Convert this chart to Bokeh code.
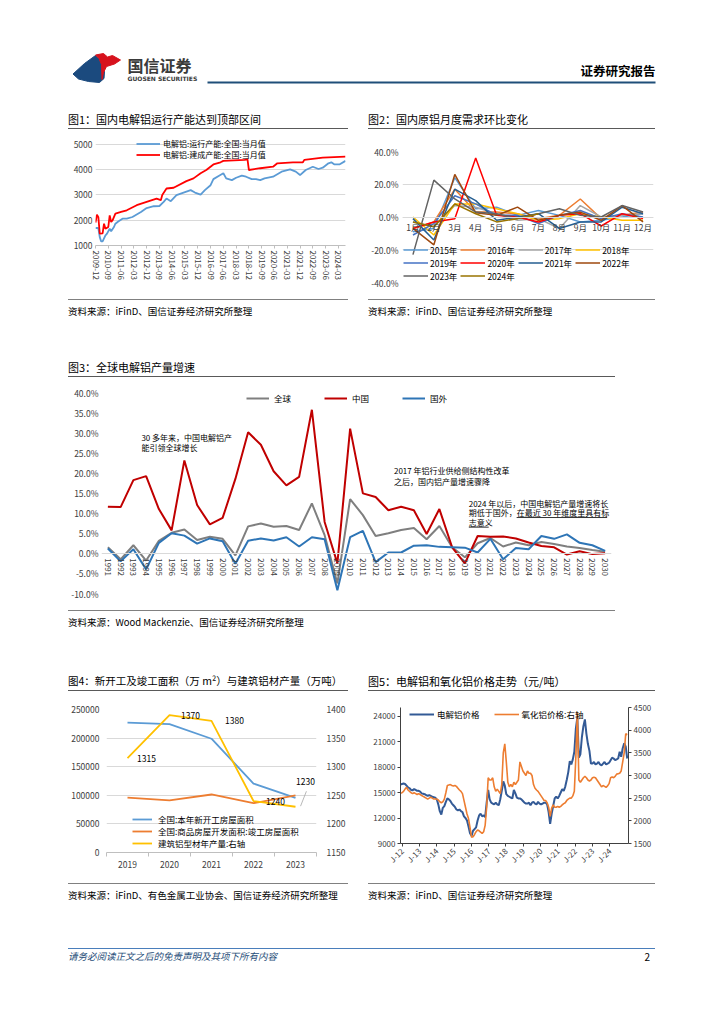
import math
from bokeh.plotting import figure
from bokeh.models import (Range1d, LinearAxis, FixedTicker, PrintfTickFormatter,
                          BasicTickFormatter, Legend, LegendItem, Label, LabelSet,
                          ColumnDataSource, Div, Spacer)
from bokeh.layouts import column, row
from bokeh.embed import file_html
from bokeh.resources import INLINE
from bokeh.core.properties import value

FONT = "Noto Sans CJK SC"
TICK_COLOR = "#404040"

# ---------------- Chart 1: capacity (万吨) ----------------
c1_tick_labels = ["2009-12", "2010-09", "2011-06", "2012-03", "2012-12", "2013-09",
                  "2014-06", "2015-03", "2015-12", "2016-09", "2017-06", "2018-03",
                  "2018-12", "2019-09", "2020-06", "2021-03", "2021-12", "2022-09",
                  "2023-06", "2024-03"]
c1_run_dates = ["2009-12", "2010-02", "2010-03", "2010-04", "2010-05", "2010-07", "2010-08",
                "2010-10", "2010-11", "2011-01", "2011-02", "2011-04", "2011-07", "2011-10",
                "2012-02", "2012-08", "2012-12", "2013-05", "2013-09", "2013-12", "2014-02",
                "2014-05", "2014-09", "2015-02", "2015-07", "2015-10", "2016-02", "2016-05",
                "2016-09", "2016-11", "2017-03", "2017-06", "2017-08", "2017-12", "2018-03",
                "2018-07", "2018-10", "2019-02", "2019-05", "2019-08", "2019-11", "2020-05",
                "2020-11", "2021-05", "2021-09", "2021-12", "2022-04", "2022-09", "2023-01",
                "2023-04", "2023-08", "2023-10", "2023-12", "2024-04", "2024-08"]
c1_run_vals = [1690, 1690, 1330, 1160, 1160, 1400, 1460, 1660, 1560, 1730, 1860, 1950,
               2060, 2060, 2125, 2325, 2480, 2550, 2560, 2720, 2855, 2750, 2990, 3090,
               3185, 3090, 3010, 3185, 3380, 3620, 3755, 3850, 3650, 3580, 3675, 3755,
               3715, 3620, 3620, 3580, 3650, 3715, 3915, 4005, 3915, 3780, 3980, 4110,
               4020, 4070, 4245, 4285, 4205, 4205, 4340]
c1_built_dates = ["2009-12", "2010-01", "2010-02", "2010-03", "2010-05", "2010-06", "2010-07",
                  "2010-09", "2010-10", "2010-11", "2010-12", "2011-02", "2011-06", "2011-10",
                  "2012-05", "2012-12", "2013-07", "2013-10", "2013-11", "2014-02", "2014-07",
                  "2015-04", "2015-09", "2016-02", "2016-06", "2016-11", "2017-04", "2017-06",
                  "2018-09", "2018-11", "2018-12", "2019-08", "2020-05", "2020-08", "2021-07",
                  "2022-02", "2022-03", "2023-04", "2024-08"]
c1_built_vals = [1900, 2220, 2120, 1470, 1480, 1860, 1660, 1730, 2190, 1930, 1990, 2260,
                 2325, 2390, 2590, 2720, 2850, 2790, 2990, 3250, 3280, 3540, 3650, 3850,
                 3980, 4200, 4285, 4340, 4380, 4400, 3980, 4050, 4110, 4245, 4285, 4285,
                 4380, 4470, 4510]
c1_names = ["电解铝:运行产能:全国:当月值", "电解铝:建成产能:全国:当月值"]

# ---------------- Chart 2: monthly demand m/m (%) ----------------
c2_months = ["1月", "2月", "3月", "4月", "5月", "6月", "7月", "8月", "9月", "10月", "11月", "12月"]
c2_years = ["2015年", "2016年", "2017年", "2018年", "2019年", "2020年", "2021年", "2022年", "2023年", "2024年"]
c2_2015 = [-9, -7, 24, 5, 6, 1, 4, 1, -3, -2, 0, 2]
c2_2016 = [-7, -3, 17, 3, 3, 2, -1, 1, 11, -1, 1, 3]
c2_2017 = [-3, -6, 7, 6, 2, -2, -1, -7, 7, 0, 1, 2]
c2_2018 = [0, -11, 8, 8, 5, 2, -2, -1, 2, 0, -2, -2]
c2_2019 = [-11, -4, 13, 8, 1, 1, -4, 1, 4, -1, 2, 0]
c2_2020 = [-7, -3, -1, 36, 1, 0, -3, 1, 2, -5.5, 2, -1]
c2_2021 = [-1, -14, 17, 10, -2, 0, 2, -7, -3, -3, 6, 2]
c2_2022 = [-7, -17, 26, 2.6, 1, 6, -2, 1, 3, -2, 7, -3]
c2_2023 = [-23, 22.5, 11, 3, 2, -1, 2, 5, 1, 0, 7, 3]
c2_2024 = [-3, -6, 8, 2, -3, -1, 2]

# ---------------- Chart 3: production growth (%) ----------------
c3_years = list(range(1991, 2031))
c3_global = [1.5, -1.5, 2.0, -1.8, 3.1, 5.1, 5.9, 3.3, 4.1, 3.6, -0.5, 6.7, 7.4, 6.6, 6.8,
             5.8, 12.4, 4.5, -7.5, 13.5, 9.5, 4.3, 5.0, 5.8, 6.3, 3.5, 6.8, 1.5, -1.0, 2.5,
             3.8, 1.7, 2.7, 2.0, 2.8, 2.3, 1.7, 1.3, 0.8, 0.4]
c3_china = [11.6, 11.5, 18.2, 19.2, 11.0, 5.7, 23.1, 12.0, 7.2, 8.8, 18.5, 30.1, 27.0, 20.4,
            16.9, 19.0, 35.7, 7.8, -2.5, 31.0, 14.9, 14.0, 10.7, 11.6, 10.7, 4.8, 11.0, 1.5,
            -2.5, 4.3, 4.1, 4.2, 3.7, 2.7, 1.8, 1.5, -0.3, 0.5, -0.2, 0.0]
c3_overseas = [1.2, -2.0, 1.0, -4.0, 2.6, 5.0, 4.4, 2.4, 3.7, 3.0, -2.6, 3.1, 3.7, 3.2, 4.0,
               1.7, 4.0, 3.5, -9.2, 4.0, 5.6, -2.2, 0.2, 0.2, 1.9, 2.0, 1.6, 1.5, 1.4, 0.2,
               3.6, -1.5, 1.3, 1.0, 4.3, 3.6, 4.7, 2.6, 2.0, 0.6]
c3_names = ["全球", "中国", "国外"]

# ---------------- Chart 4: floor area & profile output ----------------
c4_years = ["2019", "2020", "2021", "2022", "2023"]
c4_new_start = [227154, 224433, 198895, 120587, 95376]
c4_completed = [95942, 91218, 101412, 86222, 99831]
c4_profile = [1315, 1390, 1380, 1240, 1230]
c4_profile_labels = ["1315", "1370", "1380", "1240", "1230"]
c4_names = ["全国:本年新开工房屋面积", "全国:商品房屋开发面积:竣工房屋面积", "建筑铝型材年产量:右轴"]

# ---------------- Chart 5: prices (元/吨), monthly 2012-01 .. 2024-07 ----------------
c5_alu = [15950, 16000, 16050, 16000, 15800, 15600, 15500, 15300, 15250, 15400, 15300, 15200,
          15200, 15100, 14900, 14850, 14800, 14700, 14600, 14700, 14600, 14500, 14450, 14400,
          14200, 13600, 12800, 12400, 13200, 13400, 13900, 14300, 14200, 14000, 13700, 13500,
          13300, 13000, 12900, 13000, 12800, 12700, 12200, 12000, 11700, 11000, 10200, 9900,
          10500, 10700, 10900, 11700, 12300, 12500, 12200, 12300, 12100, 13800, 15300, 14200,
          13800, 13700, 13600, 13800, 13600, 13500, 14200, 15200, 16300, 15800, 14800, 14600,
          14500, 14400, 14300, 15300, 14900, 14400, 14300, 14300, 14200, 14000, 13800, 13700,
          13700, 13800, 13500, 13800, 13900, 13700, 13600, 13900, 13700, 13600, 13700, 13800,
          13800, 13600, 12700, 11300, 12500, 13400, 14300, 14500, 14300, 14600, 15000, 15400,
          15200, 15700, 16500, 17400, 18700, 18300, 18900, 19800, 22500, 23800, 19100, 19500,
          21500, 22800, 23600, 21900, 20700, 19900, 18400, 18400, 18600, 18300, 18400, 18600,
          18300, 18200, 18400, 18600, 18300, 18400, 18500, 18800, 19100, 19000, 18800, 18900,
          19000, 19800, 19200, 20200, 20800, 20400, 19000]
c5_alumina = [2610, 2620, 2650, 2700, 2740, 2680, 2650, 2620, 2600, 2620, 2600, 2580,
              2600, 2580, 2560, 2540, 2520, 2500, 2480, 2500, 2520, 2500, 2480, 2480,
              2480, 2460, 2420, 2400, 2420, 2480, 2620, 2780, 2790, 2800, 2780, 2770,
              2780, 2760, 2720, 2680, 2650, 2600, 2450, 2300, 2150, 2050, 1850, 1640,
              1650, 1700, 1760, 1800, 1780, 1750, 1720, 1760, 1900, 2300, 2950, 2900,
              2900, 2950, 2750, 2650, 2700, 2650, 2600, 2800, 3500, 3700, 3300, 2850,
              2750, 2800, 2750, 2850, 2800, 2850, 2900, 3300, 3200, 3100, 3050, 3000,
              3100, 3050, 3050, 3000, 2800, 2720, 2680, 2650, 2600, 2550, 2500, 2450,
              2450, 2400, 2300, 2100, 2280, 2350, 2300, 2300, 2320, 2300, 2320, 2350,
              2380, 2400, 2450, 2480, 2500, 2500, 2550, 2650, 3400, 4400, 2900, 2850,
              2900, 2950, 2980, 2950, 2900, 2880, 2900, 2950, 2960, 2950, 2900, 2850,
              2800, 2750, 2780, 2760, 2740, 2770, 2820, 2950, 2970, 2950, 2980, 3030,
              3040, 3050, 3100, 3300, 3500, 3920, 3900]
c5_tick_labels = ["J-12", "J-13", "J-14", "J-15", "J-16", "J-17", "J-18", "J-19",
                  "J-20", "J-21", "J-22", "J-23", "J-24"]
c5_names = ["电解铝价格", "氧化铝价格:右轴"]


def month_idx(s):
    y, m = s.split("-")
    return (int(y) - 2009) * 12 + int(m) - 12


def style_axis(ax, size="8.5px", standoff=3):
    ax.major_label_text_font = FONT
    ax.major_label_text_font_size = size
    ax.major_label_text_color = TICK_COLOR
    ax.minor_tick_line_color = None
    ax.major_tick_line_color = None
    ax.major_tick_out = 0
    ax.major_tick_in = 0
    ax.minor_tick_out = 0
    ax.minor_tick_in = 0
    ax.axis_line_color = None
    ax.major_label_standoff = standoff


def base_fig(**kw):
    p = figure(output_backend="svg", toolbar_location=None, **kw)
    p.outline_line_color = None
    p.border_fill_color = "white"
    p.background_fill_color = "white"
    return p


def make_legend(items, **kw):
    opts = dict(label_text_font=FONT, label_text_font_size="8.5px", label_text_color="#000",
                border_line_color=None, background_fill_alpha=0, padding=0, margin=0,
                spacing=0)
    opts.update(kw)
    return Legend(items=items, **opts)


# ================= Figure 1 =================
p1 = base_fig(width=280, height=170, x_range=Range1d(0, 176), y_range=Range1d(1000, 5500),
              min_border_left=27, min_border_right=3, min_border_top=2, min_border_bottom=54)
r1a = p1.line([month_idx(d) for d in c1_run_dates], c1_run_vals, color="#5B9BD5", line_width=1.8)
r1b = p1.line([month_idx(d) for d in c1_built_dates], c1_built_vals, color="#FF0000", line_width=1.8)
p1.xgrid.visible = False
p1.ygrid.grid_line_color = "#d9d9d9"
p1.yaxis.ticker = FixedTicker(ticks=[1000, 2000, 3000, 4000, 5000])
p1.ygrid.ticker = FixedTicker(ticks=[1000, 2000, 3000, 4000, 5000])
for ax in p1.axis:
    style_axis(ax)
p1.xaxis.ticker = FixedTicker(ticks=[month_idx(t) for t in c1_tick_labels])
p1.xaxis.major_label_overrides = {month_idx(t): t for t in c1_tick_labels}
p1.xaxis.major_label_orientation = "vertical"
p1.xaxis.major_label_text_font_size = "8px"
p1.xaxis.axis_line_color = "#bfbfbf"
p1.xaxis.major_tick_line_color = "#bfbfbf"
p1.xaxis.major_tick_out = 3
p1.xaxis.major_label_standoff = 2
lg1 = make_legend([LegendItem(label=c1_names[0], renderers=[r1a]),
                   LegendItem(label=c1_names[1], renderers=[r1b])],
                  location=(41, 85), glyph_width=24, glyph_height=9, label_height=9,
                  label_standoff=3, label_text_font_size="8px")
p1.add_layout(lg1)

# ================= Figure 2 =================
p2 = base_fig(width=287, height=170, x_range=Range1d(0.5, 12.5), y_range=Range1d(-40, 40),
              min_border_left=34, min_border_right=2, min_border_top=22, min_border_bottom=17)
c2_series = [c2_2015, c2_2016, c2_2017, c2_2018, c2_2019, c2_2020, c2_2021, c2_2022, c2_2023, c2_2024]
c2_colors = ["#5B9BD5", "#ED7D31", "#A5A5A5", "#FFC000", "#4472C4", "#FF0000",
             "#255E91", "#9E480E", "#636363", "#997300"]
items2 = []
for name, vals, col in zip(c2_years, c2_series, c2_colors):
    r = p2.line(list(range(1, len(vals) + 1)), vals, color=col, line_width=1.5)
    items2.append(LegendItem(label=name, renderers=[r]))
p2.xgrid.visible = False
p2.ygrid.grid_line_color = "#d9d9d9"
p2.yaxis.ticker = FixedTicker(ticks=[-40, -20, 0, 20, 40])
p2.ygrid.ticker = FixedTicker(ticks=[-40, -20, 0, 20, 40])
p2.yaxis.formatter = PrintfTickFormatter(format="%.1f%%")
for ax in p2.axis:
    style_axis(ax, standoff=4)
p2.xaxis.ticker = FixedTicker(ticks=list(range(1, 13)))
p2.xaxis.major_label_overrides = {i + 1: m for i, m in enumerate(c2_months)}
p2.xaxis.fixed_location = 0
p2.xaxis.axis_line_color = "#d9d9d9"
p2.xaxis.major_label_standoff = 4
for k, ly in enumerate([26, 13, 0]):
    lg2 = make_legend(items2[4 * k:4 * k + 4], location=(1, ly), orientation="horizontal",
                      glyph_width=25, glyph_height=13, label_height=13, label_width=27,
                      label_standoff=2, spacing=3)
    p2.add_layout(lg2)

# ================= Figure 3 =================
p3 = base_fig(width=547, height=233, x_range=Range1d(1990.5, 2030.5), y_range=Range1d(-10, 40),
              min_border_left=32, min_border_right=4, min_border_top=15, min_border_bottom=17)
r3a = p3.line(c3_years, c3_global, color="#7F7F7F", line_width=2)
r3b = p3.line(c3_years, c3_china, color="#C00000", line_width=2)
r3c = p3.line(c3_years, c3_overseas, color="#2E75B6", line_width=2)
p3.grid.visible = False
p3.yaxis.ticker = FixedTicker(ticks=list(range(-10, 41, 5)))
p3.yaxis.formatter = PrintfTickFormatter(format="%.1f%%")
for ax in p3.axis:
    style_axis(ax, standoff=3)
p3.xaxis.ticker = FixedTicker(ticks=c3_years)
p3.xaxis.formatter = BasicTickFormatter(use_scientific=False)
p3.xaxis.major_label_orientation = "vertical"
p3.xaxis.major_label_text_font_size = "8px"
p3.xaxis.fixed_location = 0
p3.xaxis.axis_line_color = "#d9d9d9"
p3.xaxis.major_label_standoff = 5
lg3 = make_legend([LegendItem(label=n, renderers=[r]) for n, r in zip(c3_names, [r3a, r3b, r3c])],
                  location=(145, 189), orientation="horizontal", glyph_width=23, glyph_height=12,
                  label_height=12, label_width=17, label_standoff=5, spacing=33)
p3.add_layout(lg3)
c3_notes = [
    (1993.63, 28.9, "30 多年来，中国电解铝产"),
    (1993.63, 26.3, "能引领全球增长"),
    (2013.44, 20.6, "2017 年铝行业供给侧结构性改革"),
    (2013.44, 17.9, "之后，国内铝产量增速骤降"),
    (2019.30, 12.5, "2024 年以后，中国电解铝产量增速将长"),
    (2019.30, 10.1, "期低于国外，在最近 30 年维度里具有标"),
    (2019.30, 7.7, "志意义"),
]
for nx, ny, nt in c3_notes:
    p3.add_layout(Label(x=nx, y=ny, text=nt, text_font=FONT, text_font_size="8px",
                        text_color="#000", text_baseline="middle", text_align="left"))
p3.segment(x0=[2023.06, 2019.31], y0=[8.9, 6.5], x1=[2030.16, 2020.87], y1=[8.9, 6.5],
           line_color="#000", line_width=0.8)

# ================= Figure 4 =================
c4_x = list(range(1, len(c4_years) + 1))
p4 = base_fig(width=280, height=192, x_range=Range1d(0.5, 5.5), y_range=Range1d(0, 250000),
              min_border_left=37, min_border_right=31, min_border_top=18, min_border_bottom=31)
p4.extra_y_ranges = {"r": Range1d(1150, 1400)}
r4a = p4.line(c4_x, c4_new_start, color="#5B9BD5", line_width=1.8)
r4b = p4.line(c4_x, c4_completed, color="#ED7D31", line_width=1.8)
r4c = p4.line(c4_x, c4_profile, color="#FFC000", line_width=1.8, y_range_name="r")
p4.xgrid.visible = False
p4.ygrid.grid_line_color = "#d9d9d9"
c4_left_ticks = [0, 50000, 100000, 150000, 200000, 250000]
p4.yaxis.ticker = FixedTicker(ticks=c4_left_ticks)
p4.ygrid.ticker = FixedTicker(ticks=c4_left_ticks)
p4.yaxis.formatter = BasicTickFormatter(use_scientific=False)
ax4r = LinearAxis(y_range_name="r", ticker=FixedTicker(ticks=[1150, 1200, 1250, 1300, 1350, 1400]))
p4.add_layout(ax4r, "right")
for ax in p4.axis:
    style_axis(ax, standoff=7)
ax4r.major_label_standoff = 10
p4.xaxis.ticker = FixedTicker(ticks=c4_x, minor_ticks=[x - 0.5 for x in c4_x] + [c4_x[-1] + 0.5])
p4.xaxis.major_label_overrides = {x: y for x, y in zip(c4_x, c4_years)}
p4.xaxis.axis_line_color = "#bfbfbf"
p4.xaxis.minor_tick_line_color = "#bfbfbf"
p4.xaxis.minor_tick_out = 4
p4.xaxis.major_label_standoff = 4
c4_lbl_dx = [19, 21, 23, 22, 10]
c4_lbl_dy = [0, 0, 0, 0, 25]
src4 = ColumnDataSource(dict(x=c4_x, y=c4_profile, t=c4_profile_labels, dx=c4_lbl_dx, dy=c4_lbl_dy))
p4.add_layout(LabelSet(x="x", y="y", text="t", source=src4, y_range_name="r",
                       x_offset="dx", y_offset="dy", text_font=value(FONT),
                       text_font_size=value("8.5px"), text_color="#000",
                       text_align="center", text_baseline="middle"))
p4.segment(x0=[c4_x[-1] + 0.12], y0=[c4_profile[-1] + 1], x1=[c4_x[-1] + 0.26],
           y1=[c4_profile[-1] + 27], line_color="#a6a6a6", line_width=0.8, y_range_name="r")
lg4 = make_legend([LegendItem(label=n, renderers=[r]) for n, r in zip(c4_names, [r4a, r4b, r4c])],
                  location=(26, 3), glyph_width=20, glyph_height=12, label_height=12,
                  label_standoff=6)
p4.add_layout(lg4)

# ================= Figure 5 =================
c5_x = [2012 + i / 12 for i in range(len(c5_alu))]
p5 = base_fig(width=287, height=192, x_range=Range1d(2012.0, 2024.57), y_range=Range1d(9000, 25000),
              min_border_left=32, min_border_right=27, min_border_top=16, min_border_bottom=40)
p5.extra_y_ranges = {"r": Range1d(1500, 4500)}
r5a = p5.line(c5_x, c5_alu, color="#335A96", line_width=2)
r5b = p5.line(c5_x, c5_alumina, color="#ED7D31", line_width=1.6, y_range_name="r")
p5.grid.visible = False
p5.yaxis.ticker = FixedTicker(ticks=[9000, 12000, 15000, 18000, 21000, 24000])
ax5r = LinearAxis(y_range_name="r", ticker=FixedTicker(ticks=[1500, 2000, 2500, 3000, 3500, 4000, 4500]))
p5.add_layout(ax5r, "right")
for ax in p5.axis:
    style_axis(ax, size="8px", standoff=2)
    ax.axis_line_color = "#404040"
    ax.major_tick_line_color = "#404040"
    ax.major_tick_out = 3
c5_ticks = [2012.09 + 0.954 * k for k in range(len(c5_tick_labels))]
p5.xaxis.ticker = FixedTicker(ticks=c5_ticks)
p5.xaxis.major_label_overrides = {t: l for t, l in zip(c5_ticks, c5_tick_labels)}
p5.xaxis.major_label_orientation = math.pi / 4
p5.xaxis.major_label_standoff = 3
lg5 = make_legend([LegendItem(label=n, renderers=[r]) for n, r in zip(c5_names, [r5a, r5b])],
                  location=(9, 123), orientation="horizontal", glyph_width=25, glyph_height=12,
                  label_height=12, label_standoff=3, spacing=14)
p5.add_layout(lg5)

# ================= Header (page pixel coordinates) =================
hdr = figure(width=716, height=92, x_range=Range1d(0, 716), y_range=Range1d(100, 8),
             x_axis_type=None, y_axis_type=None, output_backend="svg", toolbar_location=None,
             min_border=0)
hdr.grid.visible = False
hdr.outline_line_color = None
logo_blue_x = [72.5, 84, 95, 98.5, 101.5, 104, 103.5, 99, 88, 78]
logo_blue_y = [73.5, 63, 55, 58, 64, 71, 78, 82, 81, 78.5]
logo_red_x = [95, 103, 107, 112, 120, 114, 106, 103, 101.5, 101, 98.5]
logo_red_y = [54.5, 53, 56.5, 55, 59.5, 63.5, 66, 72, 79, 64, 58]
hdr.patch(logo_blue_x, logo_blue_y, color="#1B4A7E")
hdr.patch(logo_red_x, logo_red_y, color="#D7121D")
hdr.add_layout(Label(x=127, y=64.5, text="国信证券", text_font=FONT, text_font_size="16px",
                     text_font_style="bold", text_color="#3a3a3a", text_baseline="middle"))
hdr.add_layout(Label(x=127, y=77.5, text="GUOSEN SECURITIES", text_font="DejaVu Sans",
                     text_font_size="6px", text_font_style="bold", text_color="#3a3a3a",
                     text_baseline="middle"))
hdr.add_layout(Label(x=655, y=70, text="证券研究报告", text_font=FONT, text_font_size="12.5px",
                     text_font_style="bold", text_color="#000", text_baseline="middle",
                     text_align="right"))
hdr.segment(x0=[207], y0=[82], x1=[655], y1=[82], line_color="#1F4E79", line_width=2)


# ================= Divs =================
def title_div(txt, w, size="11px"):
    html = ('<div style="box-sizing:border-box;width:%dpx;height:20px;padding-top:3px;'
            'line-height:14px;font-size:%s;font-family:\'%s\';color:#000;'
            'border-bottom:1.5px solid #595959;white-space:nowrap">%s</div>'
            % (w, size, FONT, txt))
    return Div(text=html, width=w, height=20, margin=0)


def source_div(txt, w):
    html = ('<div style="box-sizing:border-box;width:%dpx;height:20px;padding-top:4px;'
            'line-height:14px;font-size:9.5px;font-family:\'%s\';color:#000;'
            'border-top:1px solid #808080;white-space:nowrap">%s</div>'
            % (w, FONT, txt))
    return Div(text=html, width=w, height=20, margin=0)


def sp(w, h):
    return Spacer(width=w, height=h, margin=0)


SRC1 = "资料来源：iFinD、国信证券经济研究所整理"
SRC3 = "资料来源：Wood Mackenzie、国信证券经济研究所整理"
SRC4 = "资料来源：iFinD、有色金属工业协会、国信证券经济研究所整理"

footer = Div(text=('<div style="box-sizing:border-box;width:587px;height:17px;border-top:1px solid #4A7EBB;'
                   'display:flex;justify-content:space-between;align-items:center;padding-right:5px;'
                   'font-family:\'%s\'"><span style="font-style:italic;color:#1F4E79;font-size:9.5px">'
                   '请务必阅读正文之后的免责声明及其项下所有内容</span>'
                   '<span style="color:#000;font-size:10px">2</span></div>' % FONT),
             width=587, height=17, margin=0)

L = 68  # left offset of content (page margin included)
layout = column(
    sp(10, 8),
    hdr,
    sp(10, 9),
    row(sp(L, 1), title_div("图1：国内电解铝运行产能达到顶部区间", 280), sp(20, 1),
        title_div("图2：国内原铝月度需求环比变化", 287)),
    row(sp(L, 1), column(p1), sp(20, 1), column(p2)),
    row(sp(L, 1), source_div(SRC1, 280), sp(20, 1), source_div(SRC1, 287)),
    sp(10, 38),
    row(sp(L, 1), title_div("图3：全球电解铝产量增速", 547)),
    row(sp(L, 1), column(p3)),
    row(sp(L, 1), source_div(SRC3, 547)),
    sp(10, 41),
    row(sp(L, 1), title_div("图4：新开工及竣工面积（万 m²）与建筑铝材产量（万吨）", 280, "10.5px"),
        sp(20, 1), title_div("图5：电解铝和氧化铝价格走势（元/吨）", 287)),
    row(sp(L, 1), column(p4), sp(20, 1), column(p5)),
    row(sp(L, 1), source_div(SRC4, 280), sp(20, 1), source_div(SRC1, 287)),
    sp(10, 45),
    row(sp(L, 1), footer),
)

open("out.html", "w").write(file_html(layout, INLINE))
